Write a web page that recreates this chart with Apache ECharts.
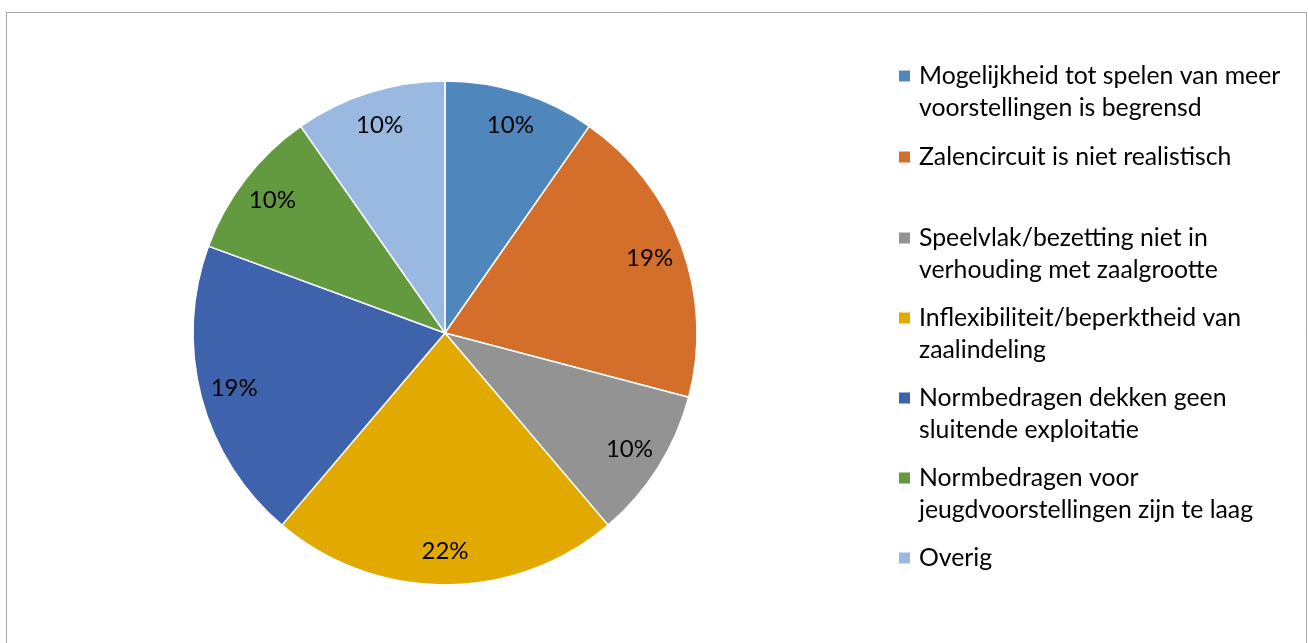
<!DOCTYPE html>
<html>
<head>
<meta charset="utf-8">
<script src="https://cdn.jsdelivr.net/npm/echarts@6/dist/echarts.min.js"></script>
<style>
html,body{margin:0;padding:0;background:#fff;}
#chart{width:1308px;height:643px;}
</style>
</head>
<body>
<div id="chart"></div>
<script>
const categories = [
  'Mogelijkheid tot spelen van meer voorstellingen is begrensd',
  'Zalencircuit is niet realistisch',
  'Speelvlak/bezetting niet in verhouding met zaalgrootte',
  'Inflexibiliteit/beperktheid van zaalindeling',
  'Normbedragen dekken geen sluitende exploitatie',
  'Normbedragen voor jeugdvoorstellingen zijn te laag',
  'Overig'
];
const legendLabels = [
  'Mogelijkheid tot spelen van meer\nvoorstellingen is begrensd',
  'Zalencircuit is niet realistisch',
  'Speelvlak/bezetting niet in\nverhouding met zaalgrootte',
  'Inflexibiliteit/beperktheid van\nzaalindeling',
  'Normbedragen dekken geen\nsluitende exploitatie',
  'Normbedragen voor\njeugdvoorstellingen zijn te laag',
  'Overig'
];
const values = [9.7, 19.4, 9.7, 22.4, 19.4, 9.7, 9.7];
const colors = ['#4f87bd', '#d46f2b', '#939393', '#e2a900', '#3e63ac', '#639a40', '#99b9e0'];

const FONT = 'Lato';
const data = categories.map((c, i) => ({ name: c, value: values[i], itemStyle: { color: colors[i] } }));
const ringData = categories.map((c, i) => ({ name: c, value: values[i] }));

const isTwoLine = i => legendLabels[i].indexOf('\n') >= 0;
const legendData = categories.map((c, i) => {
  let pad = isTwoLine(i) ? [0, 0, 0, 3] : [32, 0, 32, 3];
  if (i === 1) pad = [33, 0, 33, 3];
  return { name: c, textStyle: { padding: pad } };
});

const chart = echarts.init(document.getElementById('chart'));
chart.setOption({
  animation: false,
  color: colors,
  graphic: [{
    type: 'rect',
    shape: { x: 6.5, y: 12.5, width: 1300, height: 700 },
    style: { fill: 'none', stroke: '#a6a6a6', lineWidth: 1 },
    silent: true, z: -10
  }],
  legend: {
    orient: 'vertical',
    left: 897,
    top: 28,
    padding: 0,
    itemGap: -16,
    itemWidth: 13,
    itemHeight: 13,
    icon: 'rect',
    selectedMode: false,
    data: legendData,
    formatter: name => {
      const i = categories.indexOf(name);
      return isTwoLine(i) ? '\n' + legendLabels[i] : legendLabels[i];
    },
    textStyle: { fontFamily: FONT, fontSize: 24.8, lineHeight: 32, color: '#000' }
  },
  series: [{
    type: 'pie',
    center: [445, 333],
    radius: [0, 252],
    startAngle: 90,
    clockwise: true,
    silent: true,
    label: { show: false },
    labelLine: { show: false },
    itemStyle: { borderColor: '#fff', borderWidth: 1.5 },
    data: data
  }, {
    type: 'pie',
    center: [445, 333],
    radius: [178, 252],
    startAngle: 90,
    clockwise: true,
    silent: true,
    itemStyle: { color: 'rgba(0,0,0,0)' },
    label: {
      show: true,
      position: 'inside',
      fontFamily: FONT,
      fontSize: 24,
      color: '#000',
      formatter: p => Math.round(p.value) + '%'
    },
    labelLine: { show: false },
    data: ringData
  }]
});
</script>
</body>
</html>
